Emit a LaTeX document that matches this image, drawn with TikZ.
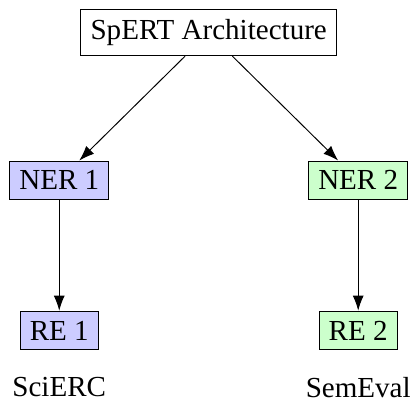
\documentclass[12pt,tikz,border=0pt]{standalone}
\usepackage{fontspec}
\setmainfont{Liberation Serif}
\usetikzlibrary{matrix,positioning}
\usetikzlibrary{arrows.meta}

\tikzset{
  box/.style={draw, fill=white},
  nerone/.style={draw, fill=blue!20},
  nertwo/.style={draw, fill=green!20},
  dataset/.style={inner sep=0.5pt}
}

\begin{document}
\begin{tikzpicture}
  \begin{scope}[overlay]
  \matrix (m) [matrix of nodes, row sep={2.18cm,between origins}, column sep={2.17cm,between origins}]
  {
    & |[box]| SpERT Architecture & \\
    |[nerone]| NER 1 & & |[nertwo]| NER 2 \\
    |[nerone]| RE 1 & & |[nertwo]| RE 2 \\
  };

  % Jeux de données sous les boîtes RE
  \node[dataset, below=0.37cm of m-3-1] (sci) {SciERC};
  \node[dataset, below=0.37cm of m-3-3] (sem) {SemEval};

  % Flèches entre les cellules
  \path[-{Latex[length=2.2mm,width=1.6mm]}] (m-1-2) edge (m-2-1);
  \path[-{Latex[length=2.2mm,width=1.6mm]}] (m-1-2) edge (m-2-3);
  \path[-{Latex[length=2.2mm,width=1.6mm]}] (m-2-1) edge (m-3-1);
  \path[-{Latex[length=2.2mm,width=1.6mm]}] (m-2-3) edge (m-3-3);
  \end{scope}

  \path ([shift={(-3.03,0.476)}]m-1-2.center) rectangle ([shift={(2.98,-5.36)}]m-1-2.center);
\end{tikzpicture}
\end{document}
